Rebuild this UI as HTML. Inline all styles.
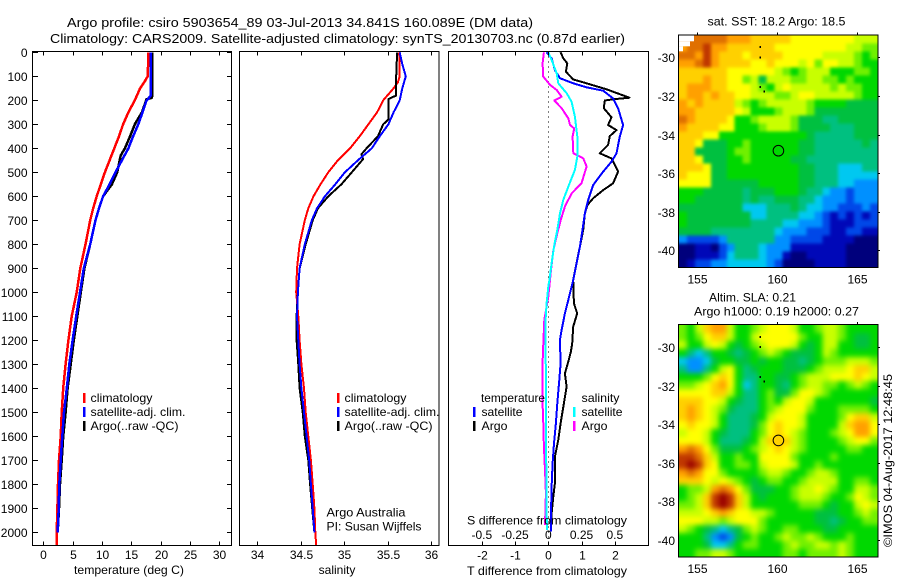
<!DOCTYPE html>
<html>
<head>
<meta charset="utf-8">
<title>Argo profile</title>
<style>
html,body{margin:0;padding:0;background:#fff;}
svg{display:block;}
text{font-family:"Liberation Sans",sans-serif;font-size:12px;fill:#000;}
.title{font-size:13px;}
.frame{fill:none;stroke:#000;stroke-width:1;shape-rendering:crispEdges;}
</style>
</head>
<body>
<svg id="chart" xmlns="http://www.w3.org/2000/svg" width="900" height="580" viewBox="0 0 900 580">
<defs>
<filter id="blur-sst" filterUnits="userSpaceOnUse" x="640" y="0" width="260" height="300" color-interpolation-filters="sRGB"><feGaussianBlur stdDeviation="1.6"/></filter>
<filter id="blur-sla" filterUnits="userSpaceOnUse" x="640" y="290" width="260" height="290" color-interpolation-filters="sRGB"><feGaussianBlur stdDeviation="2.6"/></filter>
<clipPath id="clip-sst"><rect x="679" y="35.3" width="199" height="232"/></clipPath>
<clipPath id="clip-sla"><rect x="679" y="325" width="199" height="232"/></clipPath>
</defs>
<rect width="900" height="580" fill="#fff"/>
<text class="title" x="67" y="27" textLength="466" lengthAdjust="spacingAndGlyphs">Argo profile: csiro 5903654_89 03-Jul-2013 34.841S 160.089E (DM data)</text>
<text class="title" x="50" y="43" textLength="575" lengthAdjust="spacingAndGlyphs">Climatology: CARS2009. Satellite-adjusted climatology: synTS_20130703.nc (0.87d earlier)</text>

<g id="maps"></g>
<g id="plots"></g>

<text x="129" y="574" text-anchor="middle" textLength="110" lengthAdjust="spacingAndGlyphs">temperature (deg C)</text>
<text x="337" y="574" text-anchor="middle">salinity</text>
<text x="467" y="575" textLength="160" lengthAdjust="spacingAndGlyphs">T difference from climatology</text>
<text x="467" y="524.5" textLength="160" lengthAdjust="spacingAndGlyphs">S difference from climatology</text>

<g>
<rect x="83" y="393" width="2.5" height="10" fill="#f00"/>
<rect x="83" y="407" width="2.5" height="10" fill="#00f"/>
<rect x="83" y="421" width="2.5" height="10" fill="#000"/>
<text x="90.5" y="402" textLength="62" lengthAdjust="spacingAndGlyphs">climatology</text>
<text x="90.5" y="416" textLength="95" lengthAdjust="spacingAndGlyphs">satellite-adj. clim.</text>
<text x="90.5" y="430" textLength="88" lengthAdjust="spacingAndGlyphs">Argo(..raw -QC)</text>
</g>
<g>
<rect x="337" y="393" width="2.5" height="10" fill="#f00"/>
<rect x="337" y="407" width="2.5" height="10" fill="#00f"/>
<rect x="337" y="421" width="2.5" height="10" fill="#000"/>
<text x="344.5" y="402" textLength="62" lengthAdjust="spacingAndGlyphs">climatology</text>
<text x="344.5" y="416" textLength="95" lengthAdjust="spacingAndGlyphs">satellite-adj. clim.</text>
<text x="344.5" y="430" textLength="88" lengthAdjust="spacingAndGlyphs">Argo(..raw -QC)</text>
</g>
<text x="326.5" y="516.5" textLength="79" lengthAdjust="spacingAndGlyphs">Argo Australia</text>
<text x="326.5" y="530.5" textLength="95" lengthAdjust="spacingAndGlyphs">PI: Susan Wijffels</text>

<g>
<text x="481" y="402" textLength="64" lengthAdjust="spacingAndGlyphs">temperature</text>
<text x="481.5" y="416" textLength="41" lengthAdjust="spacingAndGlyphs">satellite</text>
<text x="481.5" y="430" textLength="26" lengthAdjust="spacingAndGlyphs">Argo</text>
<rect x="473" y="407" width="2.5" height="10" fill="#00f"/>
<rect x="473" y="421" width="2.5" height="10" fill="#000"/>
<text x="581.5" y="402" textLength="38" lengthAdjust="spacingAndGlyphs">salinity</text>
<text x="581.5" y="416" textLength="41" lengthAdjust="spacingAndGlyphs">satellite</text>
<text x="581.5" y="430" textLength="26" lengthAdjust="spacingAndGlyphs">Argo</text>
<rect x="573" y="407" width="2.5" height="10" fill="#0ff"/>
<rect x="573" y="421" width="2.5" height="10" fill="#f0f"/>
</g>

<text x="707.5" y="25.5" textLength="138" lengthAdjust="spacingAndGlyphs">sat. SST: 18.2 Argo: 18.5</text>
<text x="709" y="301.5" textLength="87" lengthAdjust="spacingAndGlyphs">Altim. SLA: 0.21</text>
<text x="694" y="315.5" textLength="165" lengthAdjust="spacingAndGlyphs">Argo h1000: 0.19 h2000: 0.27</text>
<text transform="translate(892,547) rotate(-90)" textLength="173" lengthAdjust="spacingAndGlyphs">©IMOS 04-Aug-2017 12:48:45</text>
</svg>

<script>
// ---------- profile data (depth in m, temperature deg C, salinity) ----------
var climDepth = [0,25,100,125,150,200,250,300,350,400,450,500,550,600,650,700,800,900,1000,1100,1200,1300,1400,1500,1600,1700,1800,1900,2000,2056];
var climTemp = [17.9,17.9,17.8,17.2,16.5,15.6,14.5,13.6,12.9,12.1,11.3,10.5,9.8,9.1,8.5,8.0,7.2,6.3,5.7,4.84,4.27,3.8,3.4,3.13,2.96,2.68,2.5,2.4,2.28,2.25];
var climSal = [35.63,35.64,35.64,35.62,35.57,35.45,35.38,35.28,35.18,35.07,34.93,34.82,34.73,34.65,34.59,34.55,34.49,34.46,34.45,34.475,34.49,34.51,34.54,34.56,34.59,34.62,34.64,34.66,34.67,34.68];

var satDepth = [0,180,190,200,250,300,350,400,450,500,550,600,650,700,800,900,1000,1100,1200,1300,1400,1500,1600,1700,1800,1900,2000];
var satTemp = [18.3,18.3,18.0,17.6,16.9,16.2,15.3,14.5,13.4,12.3,11.3,10.2,9.5,8.9,8.0,6.9,6.25,5.6,5.0,4.43,4.0,3.53,3.24,2.97,2.73,2.62,2.45];
var satSalDepth = [0,50,100,150,200,250,300,350,400,450,500,550,600,650,700,800,900,1000,1100,1200,1300,1400,1500,1600,1700,1800,1900,2000];
var satSal = [35.64,35.67,35.71,35.67,35.64,35.57,35.51,35.41,35.32,35.16,35.01,34.9,34.78,34.69,34.63,34.55,34.49,34.47,34.46,34.475,34.49,34.51,34.54,34.57,34.6,34.62,34.64,34.66];

var argoTempDepth = [0,180,190,195,250,300,350,400,430,500,550,600,650,700,800,900,1000,1100,1200,1300,1400,1500,1600,1700,1800,1900,2000];
var argoTemp = [18.6,18.6,18.5,17.6,16.8,15.6,14.8,13.9,13.2,12.6,11.7,10.2,9.5,8.9,8.0,7.0,6.4,5.8,5.2,4.67,4.15,3.8,3.4,3.13,2.85,2.68,2.45];
var argoSalDepth = [0,100,180,195,250,280,300,350,400,425,445,500,550,600,650,700,800,900,1000,1100,1200,1300,1400,1500,1600,1700,1800,1900,2000];
var argoSal = [35.61,35.6,35.6,35.51,35.51,35.51,35.45,35.39,35.26,35.2,35.22,35.09,34.97,34.82,34.7,34.64,34.56,34.49,34.47,34.455,34.455,34.475,34.49,34.525,34.55,34.59,34.61,34.635,34.66];

// ---------- difference panel data ----------
var tArgoDepth = [0,25,46,81,113,129,154,189,196,201,233,271,303,324,349,386,421,442,497,546,574,608,636,671,740,810,865,949,1046,1088,1143,1213,1247,1289,1338,1393,1463,1546,1615,1685,1796,1851,1921,1997];
var tArgoDiff = [.37,.45,.57,.53,.75,1.15,1.75,2.44,1.95,1.70,1.67,1.90,1.80,2.05,1.85,1.80,1.55,1.90,2.10,1.95,1.65,1.35,1.18,1.10,1.05,.95,.87,.75,.77,.87,.75,.72,.68,.60,.50,.55,.47,.37,.30,.20,.20,.15,.10,.08];
var tSatDepth = [0,25,74,108,129,146,160,192,233,303,351,421,456,497,553,615,671,740,810,879,949,1032,1088,1157,1199,1296,1365,1463,1546,1629,1713,1810,1921,1997];
var tSatDiff = [-.05,.10,.20,.35,.75,1.15,1.65,1.95,2.10,2.25,2.15,2.05,1.90,1.65,1.35,1.20,1.10,1.03,.95,.85,.75,.60,.50,.40,.35,.37,.33,.27,.23,.17,.13,.10,.08,.08];
var sSatDepth = [0,32,88,129,171,206,268,351,435,490,560,615,671,740,810,879,949,976,1046,1115,1226,1365,1504,1643,1782,1921,1990];
var sSatDiff = [0,.025,.063,.075,.138,.175,.2,.218,.218,.2,.15,.113,.088,.068,.043,.025,.008,0,-.013,-.02,-.02,-.018,-.018,-.018,-.013,-.013,-.008];
var sArgoDepth = [0,46,101,136,157,185,201,233,275,303,317,351,421,442,476,546,588,643,699,754,824,907,949,1018,1060,1115,1226,1324,1435,1532,1643,1740,1838,1969];
var sArgoDiff = [-.033,-.043,-.038,.013,.063,.1,.045,.1,.15,.163,.195,.183,.188,.263,.288,.25,.175,.125,.093,.068,.038,.02,.013,0,-.013,-.03,-.038,-.045,-.045,-.038,-.033,-.025,-.018,-.025];

// ---------- tick labels ----------
var depthTicks = [0,100,200,300,400,500,600,700,800,900,1000,1100,1200,1300,1400,1500,1600,1700,1800,1900,2000];
var tempTicks = [0,5,10,15,20,25,30];
var salTicks = ["34","34.5","35","35.5","36"];
var tDiffTicks = [-2,-1,0,1,2];
var sDiffTicks = ["-0.5","-0.25","0","0.25","0.5"];
var latTicks = [-30,-32,-34,-36,-38,-40];
var lonTicks = [155,160,165];

// ---------- map grids: one character per cell, index into the colour ramp ----------
var sstRows = [
"ddddddcccbbbbbaaaaaaaa999",
"cddeccbbbbbbaaaaaaaaa9988",
"ddcecbbbabbbbaaaaa9999878",
"ccdecbbbbaabaaa9a8aa99877",
"bbbbbbaaaaaa9878999777887",
"bbbcbbaa89699988998878777",
"bcccbbaaa9879a99999898877",
"bccbcbbaa999889aa99999877",
"cbcbbbb987899999877776666",
"ccbbbbba97778999866666666",
"dcbbbba778999986665566666",
"cbbbbaa777899986666555666",
"bbbaa77777777777655555666",
"bba6667787777776655555565",
"bb66667887777776655555555",
"bba6667787777766555555555",
"bbba667777777776655544455",
"baaa667777777776655544444",
"aaaa666666777776655544333",
"7776666656667776554332333",
"7766666656556665543332333",
"6666666644455565443322232",
"7666666664455554432121212",
"7666666665555443332111222",
"6666555555554333222112211",
"3222235555553322221111000",
"0011023555433311111110000",
"0011124555433100111110000",
"0122334444432000011110000"
];
var slaRows = [
"879bcc97789aaa97789987777",
"878abb9779aaaaa8779987667",
"9779a976789aaa97679977667",
"7545776567898766679877777",
"4334677667677665678889998",
"533579a75677766678999abb9",
"7778aba755776678999aaaba9",
"889abca745776578998878987",
"aaaabb975578668aa98777777",
"bbbaa976557879aa977777776",
"bcba986555789aaa877788887",
"bcba97555679aaa977778abb9",
"abaa9755568abaa977779bcca",
"9aa97655578aba9877789acca",
"aaa97555679bbb98777789aa8",
"cdca8666789aba98777778877",
"eedb977877aaaa87777877777",
"efeba778879aaa97787777777",
"cdcaa87777899877899877777",
"bbba9a9876788778999977887",
"7889cdca866677899a9877998",
"789befeb97677789998778a98",
"889befeb977777788876779a9",
"999abcbaa9987777766677898",
"aaa9989aaa877777766567788",
"9876545689877887776677777",
"7775323678778988987778777",
"7776445788777898899898777",
"7788998777777887888898777"
];

var rampColors = ["#00007c","#0008b8","#0048e8","#0090ff","#00c8f0","#00c080","#00c040","#00d800","#70f000","#c8ff00","#ffff00","#ffd000","#ffa000","#e07000","#c03800","#980000"];

// ---------- layout ----------
var SVGNS = "http://www.w3.org/2000/svg";
var plots = document.getElementById("plots");
var maps = document.getElementById("maps");

function el(tag, attrs, parent){
  var e = document.createElementNS(SVGNS, tag);
  for (var k in attrs) e.setAttribute(k, attrs[k]);
  parent.appendChild(e);
  return e;
}
function depthY(d){ return 52.3 + d * 0.24; }
function tempX(v){ return 43.3 + v * 5.867; }
function salX(v){ return 257 + (v - 34) * 87; }
function tDiffX(v){ return 548.3 + v * 33.25; }
function sDiffX(v){ return 548.3 + v * 133; }
function lonX(v){ return 777 + (v - 160) * 15.94; }
function latY(v, top){ return top + 22 + (-30 - v) * 19.3; }
function snap(v){ return Math.round(v) + 0.5; }

function drawLine(name, depths, values, xFn, color, width, parent){
  var pts = [];
  for (var i = 0; i < values.length; i++) pts.push(xFn(values[i]).toFixed(1) + "," + depthY(depths[i]).toFixed(1));
  var p = el("polyline", {points: pts.join(" "), fill: "none", stroke: color, "stroke-width": width, "shape-rendering": "crispEdges", "stroke-linejoin": "round"}, parent);
  
  
}
function drawTick(x1, y1, x2, y2, parent){
  var t = el("line", {x1: x1, y1: y1, x2: x2, y2: y2, stroke: "#000", "stroke-width": 1, "shape-rendering": "crispEdges"}, parent);
  
  
}
function drawLabel(x, y, s, anchor, parent){
  var t = el("text", {x: x, y: y, "text-anchor": anchor}, parent);
  t.textContent = s;
  
  
}
function drawFrame(name, x, y, w, h, parent){
  var r = el("rect", {x: x, y: y, width: w, height: h, "class": "frame"}, parent);
  
  
}
var P_TOP = 51.5, P_BOT = 545.5;

// temperature panel
var gT = el("g", {}, plots);


drawLine("climatology-temperature-line", climDepth, climTemp, tempX, "#f00", 2.5, gT);
drawLine("argo-temperature-line", argoTempDepth, argoTemp, tempX, "#000", 2.5, gT);
drawLine("satellite-temperature-line", satDepth, satTemp, tempX, "#00f", 2.5, gT);
drawFrame("temperature-frame", 32.5, P_TOP, 199, P_BOT - P_TOP, gT);
depthTicks.forEach(function(d){
  var y = snap(depthY(d));
  drawTick(33, y, 38, y, gT);
  drawTick(227, y, 231, y, gT);
  drawLabel(27.5, y + 4.5, String(d), "end", gT);
});
tempTicks.forEach(function(v){
  var x = snap(tempX(v));
  drawTick(x, P_TOP, x, P_TOP + 4, gT);
  drawTick(x, P_BOT - 4, x, P_BOT, gT);
  drawLabel(x, 559, String(v), "middle", gT);
});

// salinity panel
var gS = el("g", {}, plots);


drawLine("climatology-salinity-line", climDepth, climSal, salX, "#f00", 2, gS);
drawLine("argo-salinity-line", argoSalDepth, argoSal, salX, "#000", 2, gS);
drawLine("satellite-salinity-line", satSalDepth, satSal, salX, "#00f", 2, gS);
drawFrame("salinity-frame", 239.5, P_TOP, 199.5, P_BOT - P_TOP, gS);
salTicks.forEach(function(s){
  var x = snap(salX(parseFloat(s)));
  drawTick(x, P_TOP, x, P_TOP + 4, gS);
  drawTick(x, P_BOT - 4, x, P_BOT, gS);
  drawLabel(x, 559, s, "middle", gS);
});

// difference panel
var gD = el("g", {}, plots);


var zero = el("line", {x1: 548.5, y1: P_TOP, x2: 548.5, y2: P_BOT, stroke: "#000", "stroke-width": 1, "stroke-dasharray": "1 4", "shape-rendering": "crispEdges"}, gD);


drawLine("t-difference-argo-line", tArgoDepth, tArgoDiff, tDiffX, "#000", 2, gD);
drawLine("t-difference-satellite-line", tSatDepth, tSatDiff, tDiffX, "#00f", 2, gD);
drawLine("s-difference-argo-line", sArgoDepth, sArgoDiff, sDiffX, "#f0f", 2, gD);
drawLine("s-difference-satellite-line", sSatDepth, sSatDiff, sDiffX, "#0ff", 2, gD);
drawFrame("difference-frame", 448.5, P_TOP, 200, P_BOT - P_TOP, gD);
tDiffTicks.forEach(function(v){
  var x = snap(tDiffX(v));
  drawTick(x, P_TOP, x, P_TOP + 4, gD);
  drawTick(x, P_BOT - 4, x, P_BOT, gD);
  drawLabel(x, 559.5, String(v), "middle", gD);
});
sDiffTicks.forEach(function(s){
  drawLabel(sDiffX(parseFloat(s)), 539, s, "middle", gD);
});

// maps
function clampIdx(i, n){ return Math.max(0, Math.min(n - 1, i)); }
function drawMap(prefix, rows, top, islandMarks, whiteCorner){
  var g = el("g", {}, maps);
  
  
  var left = 679, w = 199, h = 232, cw = w / 25, ch = h / 29;
  var clipG = el("g", {"clip-path": "url(#clip-" + prefix + ")"}, g);
  
  
  var cellsG = el("g", {filter: "url(#blur-" + prefix + ")"}, clipG);
  
  
  for (var r = -2; r < 31; r++){
    var row = rows[clampIdx(r, 29)];
    for (var c = -2; c < 27; c++){
      var v = parseInt(row.charAt(clampIdx(c, 25)), 16);
      var rect = el("rect", {
        x: (left + c * cw).toFixed(2), y: (top + r * ch).toFixed(2),
        width: (cw + 0.5).toFixed(2), height: (ch + 0.5).toFixed(2),
        fill: rampColors[v], "shape-rendering": "crispEdges"
      }, cellsG);
      
      
    }
  }
  if (whiteCorner){
    var a = el("rect", {x: 679, y: top, width: 15, height: 6, fill: "#fff"}, g);
    
    
    var b = el("rect", {x: 679, y: top + 6, width: 11, height: 5, fill: "#fff"}, g);
    
    
    var d = el("rect", {x: 679, y: top + 11, width: 4, height: 5, fill: "#fff"}, g);
    
    
  }
  islandMarks.forEach(function(m){
    var s = el("rect", {x: lonX(m[0]) - 0.5, y: latY(m[1], top) - 1, width: 1.5, height: 2, fill: "#000", "shape-rendering": "crispEdges"}, g);
    
    
  });
  var circle = el("circle", {cx: lonX(160.089), cy: latY(-34.841, top), r: 5.3, fill: "none", stroke: "#000", "stroke-width": 1}, g);
  
  
  drawFrame(prefix + "-map-frame", left - 0.5, top - 0.5, w + 0.5, h + 0.5, g);
  latTicks.forEach(function(v){
    var y = snap(latY(v, top));
    drawTick(left + w, y, left + w + 2, y, g);
    drawLabel(675, y + 4.5, String(v), "end", g);
  });
  lonTicks.forEach(function(v){
    var x = snap(lonX(v));
    drawTick(x, top - 3, x, top, g);
    drawLabel(x, top + h + 16, String(v), "middle", g);
  });
}
var islandLonLat = [[158.93,-29.47],[158.93,-30],[158.93,-31.55],[159.17,-31.78]];
drawMap("sst", sstRows, 35.3, islandLonLat, true);
drawMap("sla", slaRows, 325, islandLonLat, false);
</script>
</body>
</html>
